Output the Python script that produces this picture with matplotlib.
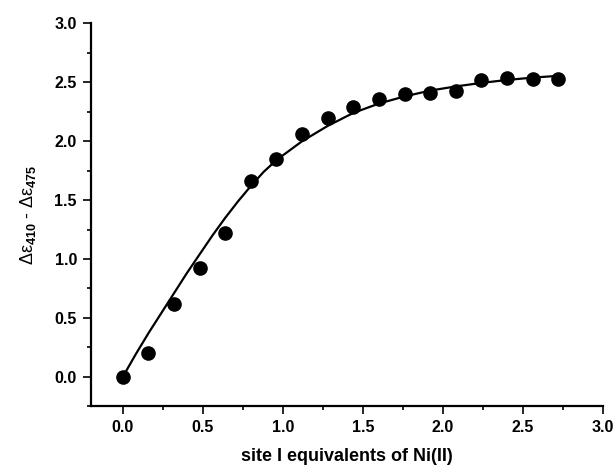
import matplotlib
matplotlib.use("Agg")
import matplotlib.pyplot as plt
from matplotlib.ticker import MultipleLocator, FormatStrFormatter

OUTPUT_FILE = "out.png"

# measured points: site I equivalents of Ni(II) vs delta-epsilon difference
equivalents = [0.00, 0.16, 0.32, 0.48, 0.64, 0.80, 0.96, 1.12, 1.28,
               1.44, 1.60, 1.76, 1.92, 2.08, 2.24, 2.40, 2.56, 2.72]
delta_eps = [0.00, 0.20, 0.62, 0.92, 1.22, 1.66, 1.85, 2.06, 2.20,
             2.29, 2.36, 2.40, 2.41, 2.43, 2.52, 2.54, 2.53, 2.53]

# fitted curve
fit_x = [0.00, 0.08, 0.16, 0.24, 0.32, 0.40, 0.48, 0.56, 0.64, 0.72,
         0.80, 0.88, 0.96, 1.12, 1.28, 1.44, 1.60, 1.76, 1.92, 2.08,
         2.24, 2.40, 2.56, 2.72]
fit_y = [0.00, 0.19, 0.37, 0.54, 0.71, 0.88, 1.04, 1.20, 1.35, 1.49,
         1.62, 1.74, 1.84, 2.00, 2.13, 2.24, 2.32, 2.38, 2.43, 2.465,
         2.495, 2.52, 2.54, 2.555]

plt.rcParams["font.family"] = ["Liberation Sans", "DejaVu Sans"]
plt.rcParams["mathtext.fontset"] = "custom"
plt.rcParams["mathtext.rm"] = "Liberation Sans"
plt.rcParams["mathtext.it"] = "Liberation Sans"
plt.rcParams["mathtext.bf"] = "Liberation Sans:bold"


def run():
    fig = plt.figure(figsize=(6.14, 4.69), dpi=100)
    ax = fig.add_axes([0.148, 0.134, 0.834, 0.816])

    ax.plot(fit_x, fit_y, color="black", lw=1.6, zorder=2)
    ax.plot(equivalents, delta_eps, "o", color="black", ms=9.5, zorder=3)

    ax.set_xlim(-0.2, 3.0)
    ax.set_ylim(-0.25, 3.0)
    ax.xaxis.set_major_locator(MultipleLocator(0.5))
    ax.xaxis.set_minor_locator(MultipleLocator(0.25))
    ax.yaxis.set_major_locator(MultipleLocator(0.5))
    ax.yaxis.set_minor_locator(MultipleLocator(0.25))
    ax.xaxis.set_major_formatter(FormatStrFormatter("%.1f"))
    ax.yaxis.set_major_formatter(FormatStrFormatter("%.1f"))

    for side in ["top", "right"]:
        ax.spines[side].set_visible(False)
    for side in ["left", "bottom"]:
        ax.spines[side].set_linewidth(1.6)

    ax.tick_params(which="major", length=6, width=1.2, direction="out", pad=4)
    ax.tick_params(which="minor", length=3, width=1.2, direction="out")
    for lab in ax.get_xticklabels() + ax.get_yticklabels():
        lab.set_fontweight("bold")
        lab.set_fontsize(11.5)

    ax.set_xlabel("site I equivalents of Ni(II)", fontsize=13, fontweight="bold",
                  labelpad=9)
    ax.set_ylabel(r"$\Delta\varepsilon_{\mathbf{410}}$ - $\Delta\varepsilon_{\mathbf{475}}$",
                  fontsize=13, labelpad=12)

    fig.savefig(OUTPUT_FILE, dpi=100)


if __name__ == "__main__":
    run()
